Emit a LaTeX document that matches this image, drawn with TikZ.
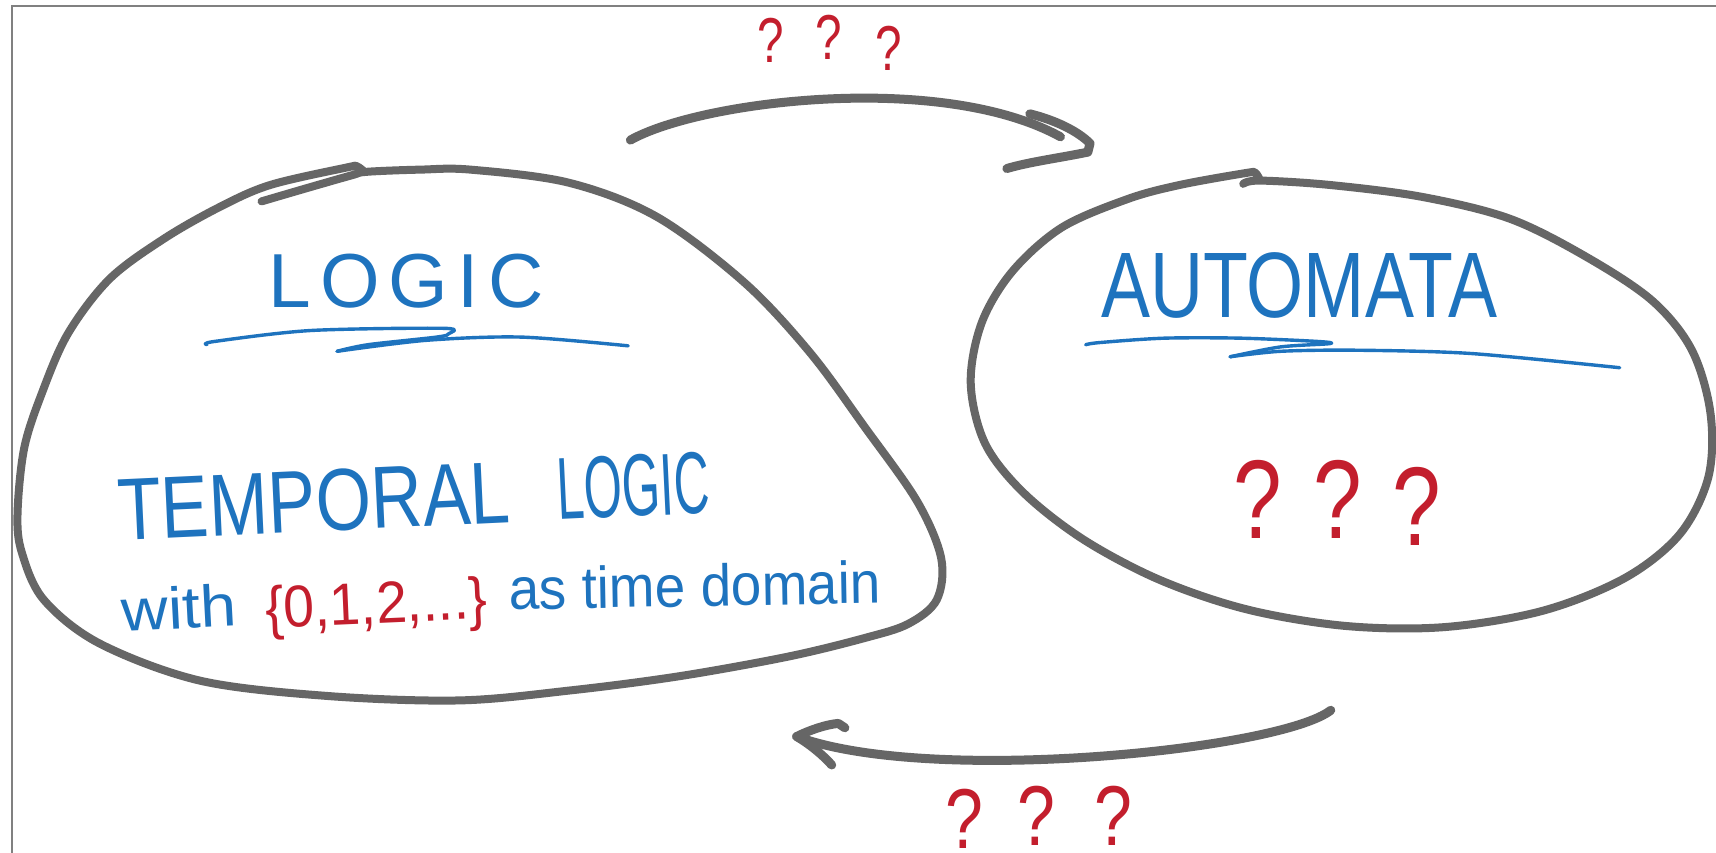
\documentclass[tikz,border=0pt]{standalone}
\usepackage{graphicx}
\usepackage{fontspec}
\setmainfont{Liberation Sans}
\newfontfamily\spacedfont[LetterSpace=12]{Liberation Sans}
\definecolor{pen}{RGB}{102,102,102}
\definecolor{inkblue}{RGB}{30,115,190}
\definecolor{inkred}{RGB}{195,30,45}
\definecolor{framegray}{RGB}{128,128,128}
\newcommand{\fsz}[1]{\fontsize{#1}{#1}\selectfont}
\begin{document}
\begin{tikzpicture}[x=1.0944pt,y=-1.0944pt,
  blob/.style={draw=pen,line width=8pt,line cap=round,line join=round},
  arrowline/.style={draw=pen,line width=9pt,line cap=round,line join=round},
  uline/.style={draw=inkblue,line width=3.4pt,line cap=round,line join=round},
  bluetext/.style={text=inkblue,inner sep=0pt,anchor=base west},
  qmark/.style={text=inkred,inner sep=0pt,anchor=base},
]
\useasboundingbox (0,0) rectangle (1568,779);
\fill[white] (0,0) rectangle (1568,779);
\clip (0,0) rectangle (1568,779);
\draw[framegray,line width=2pt] (11,790) -- (11,5.5) -- (1580,5.5);

% left blob (LOGIC)
\draw[blob] plot[smooth,tension=0.55] coordinates {(239,184) (280,172) (322,160) (335,157) (384,155) (430,155) (520,167) (600,198) (680,258) (740,322) (790,390) (838,458) (860,510) (856,548) (830,570) (790,583) (720,600) (620,618) (520,631) (420,640) (300,636) (183,622) (91,588) (40,548) (20,505) (16,470) (22,410) (38,360) (62,305) (100,255) (150,218) (201,189) (247,169) (317,153) (326,152) (333,157)};

% right blob (AUTOMATA)
\draw[blob] plot[smooth,tension=0.55] coordinates {(1136,168) (1151,165) (1215,169) (1300,180) (1380,200) (1450,235) (1510,275) (1546,320) (1563,378) (1561,436) (1535,488) (1485,528) (1410,558) (1320,573) (1230,572) (1140,557) (1060,530) (990,493) (935,450) (900,405) (887,350) (897,295) (925,248) (970,208) (1030,182) (1078,169) (1139,158) (1147,158) (1151,164)};

% top arrow
\coordinate (tS) at (576,128);
\coordinate (tE) at (969,125);
\coordinate (tB1) at (941,104);
\coordinate (tTip) at (996,131);
\coordinate (tB2) at (920,154);
\draw[arrowline] (tS) .. controls (640,92) and (860,65) .. (tE);
\draw[arrowline] (tB1) .. controls (965,110) and (985,120) .. (tTip) -- (994,139) .. controls (970,144) and (940,148) .. (tB2);

% bottom arrow
\coordinate (bS) at (1216,649);
\coordinate (bE) at (728,673);
\coordinate (bB1) at (772,665);
\coordinate (bB2) at (760,699);
\draw[arrowline] (bS) .. controls (1170,685) and (850,718) .. (bE);
\draw[arrowline] (bB1) -- (766,661) .. controls (755,662) and (740,667) .. (bE) .. controls (740,680) and (752,690) .. (bB2);

% underlines
\draw[uline] plot[smooth,tension=0.5] coordinates {(189,315) (196,312) (284,302) (406,300) (410,305) (399,308) (336,315) (308,321)};
\draw[uline] plot[smooth,tension=0.5] coordinates {(308,321) (389,311) (476,308) (574,316)};
\draw[uline] plot[smooth,tension=0.5] coordinates {(992,315) (1005,313) (1064,309) (1134,309) (1204,312) (1215,314) (1170,317) (1124,326)};
\draw[uline] plot[smooth,tension=0.5] coordinates {(1124,326) (1170,321) (1239,320) (1344,323) (1480,336)};

% texts
\node[bluetext, font=\spacedfont\fsz{76.6pt}] (logic) at (245,281) {LOGIC};
\node[bluetext, xscale=0.79, font=\fsz{93pt}] (automata) at (1006,290) {AUTOMATA};
\node[bluetext, rotate=2.7, xscale=0.81, font=\fsz{88pt}] (temporal) at (109,494) {TEMPORAL\hspace{58pt}\scalebox{0.69}[1]{LOGIC}};
\node[bluetext, rotate=3, xscale=1.1, font=\fsz{59pt}] (with) at (112,577) {with};
\node[bluetext, text=inkred, rotate=2.5, xscale=0.94, font=\fsz{59pt}] (tset) at (243,574) {\{0,1,2,...\}};
\node[bluetext, rotate=1, xscale=0.93, font=\fsz{59pt}] (domain) at (465,557) {as time domain};

% question marks
\node[qmark, xscale=0.78, font=\fsz{112pt}] (qa1) at (1149,492) {?};
\node[qmark, xscale=0.78, font=\fsz{112pt}] (qa2) at (1222,492) {?};
\node[qmark, xscale=0.78, font=\fsz{112pt}] (qa3) at (1295,498) {?};
\node[qmark, xscale=0.75, font=\fsz{63.5pt}] (qt1) at (704,57) {?};
\node[qmark, xscale=0.75, font=\fsz{63.5pt}] (qt2) at (757,54) {?};
\node[qmark, xscale=0.75, font=\fsz{63.5pt}] (qt3) at (812,64) {?};
\node[qmark, xscale=0.8, font=\fsz{85pt}] (qb1) at (881,775) {?};
\node[qmark, xscale=0.8, font=\fsz{85pt}] (qb2) at (947,773) {?};
\node[qmark, xscale=0.8, font=\fsz{85pt}] (qb3) at (1017,773) {?};
\end{tikzpicture}
\end{document}
